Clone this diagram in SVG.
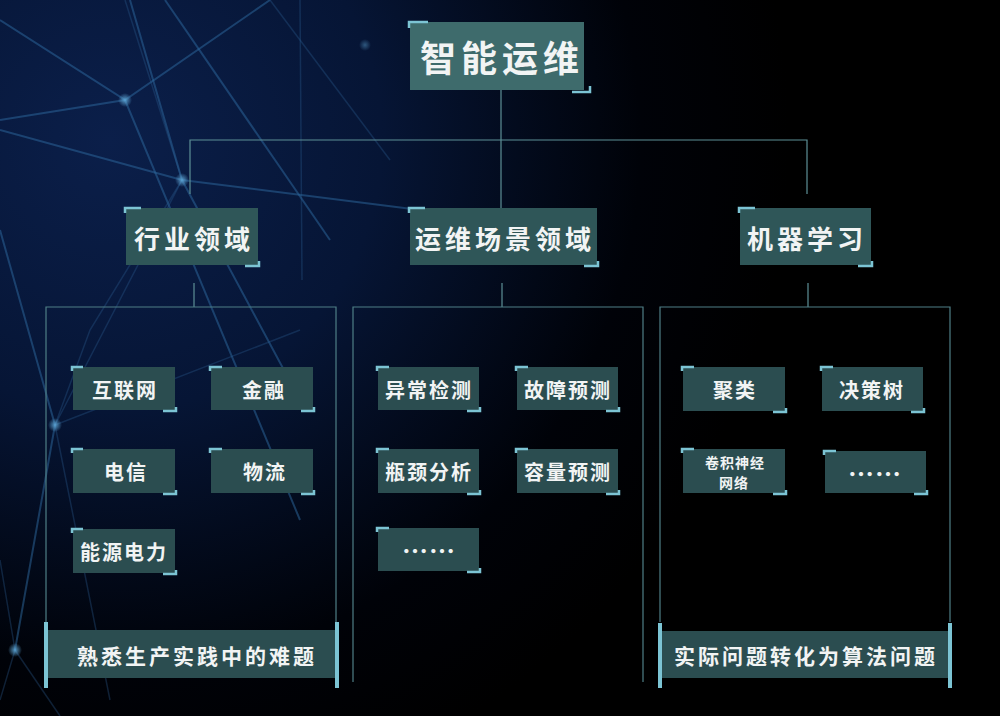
<svg xmlns="http://www.w3.org/2000/svg" width="1000" height="716" viewBox="0 0 1000 716">
<defs>
<radialGradient id="bg" cx="110" cy="140" r="680" gradientUnits="userSpaceOnUse">
<stop offset="0" stop-color="#0b1f4a"/>
<stop offset="0.4" stop-color="#061535"/>
<stop offset="0.78" stop-color="#000208"/>
<stop offset="1" stop-color="#000000"/>
</radialGradient>
<radialGradient id="dot">
<stop offset="0" stop-color="#5fa8d8" stop-opacity="0.9"/>
<stop offset="1" stop-color="#5fa8d8" stop-opacity="0"/>
</radialGradient>
<style>
.net{stroke:#2e6aa0;stroke-width:2;fill:none;opacity:0.5}
.net2{stroke:#2a5d8e;stroke-width:1.5;fill:none;opacity:0.35}
.conn{stroke:#5d8f96;stroke-width:1.2;fill:none}
.cont{stroke:#4f7f86;stroke-width:1.2;fill:none}
.big{fill:#3e6b6c}
.mid{fill:#2f5658}
.sm{fill:#2b4d50}
.acc{stroke:#7cc4d4;stroke-width:2.5;fill:none}
.bar{fill:#7cc4d4}
.t{font-family:"Noto Sans CJK SC","Noto Sans",sans-serif;font-weight:bold;fill:#f2f4f4;text-anchor:middle;dominant-baseline:central}
.t1{font-size:36px;letter-spacing:5px}
.t2{font-size:26px;letter-spacing:4px}
.t3{font-size:20px;letter-spacing:2px}
.t4{font-size:21px;letter-spacing:3px}
.t5{font-size:14px;letter-spacing:1px}
.dots{font-family:"Noto Sans CJK SC",sans-serif;font-weight:bold;font-size:26px;fill:#f2f4f4;text-anchor:middle;dominant-baseline:central;letter-spacing:1px}
</style>
</defs>
<rect width="1000" height="716" fill="url(#bg)"/>
<g id="network">
<path class="net" d="M0 20 L125 100 L300 520"/>
<path class="net" d="M130 0 L182 180 L300 400"/>
<path class="net" d="M165 0 L330 240"/>
<path class="net" d="M0 120 L125 100 L270 0"/>
<path class="net" d="M0 130 L182 180 L420 210"/>
<path class="net2" d="M270 0 L390 160"/>
<path class="net2" d="M300 0 L302 280"/>
<path class="net2" d="M182 180 L125 0"/>
<path class="net" d="M0 230 L55 425 L15 650"/>
<path class="net2" d="M182 180 L55 425 L110 700"/>
<path class="net2" d="M55 425 L300 330"/>
<path class="net2" d="M0 560 L15 650 L0 700"/>
<path class="net2" d="M15 650 L60 716"/>
<path class="net2" d="M182 180 L90 330 L55 425"/>
<circle cx="125" cy="100" r="7" fill="url(#dot)"/>
<circle cx="182" cy="180" r="7" fill="url(#dot)"/>
<circle cx="55" cy="425" r="7" fill="url(#dot)"/>
<circle cx="15" cy="650" r="7" fill="url(#dot)"/>
<circle cx="365" cy="45" r="6" fill="url(#dot)" opacity="0.5"/>
</g>
<g id="connectors">
<path class="conn" d="M501 90 V140 M190 194 V140 H807 V194 M501 140 V208"/>
<path class="conn" d="M194 283 V307 M502 283 V307 M808 283 V307"/>
<path class="cont" d="M46 622 V307 H336 V622"/>
<path class="cont" d="M660 622 V307 H950 V622"/>
<path class="cont" d="M353 682 V307 H643 V682"/>
</g>
<g id="n-root">
<rect class="big" x="410" y="22" width="174" height="68"/>
<path class="acc" d="M409 28 V22 H428 M572 92 H590 V86"/>
<text class="t t1" x="502" y="56">智能运维</text>
</g>
<g id="n-industry">
<rect class="mid" x="126" y="208" width="132" height="57"/>
<path class="acc" d="M125 213 V208 H141 M245 266 H259 V261"/>
<text class="t t2" x="194" y="237">行业领域</text>
</g>
<g id="n-scene">
<rect class="mid" x="410" y="208" width="187" height="57"/>
<path class="acc" d="M409 213 V208 H425 M584 266 H598 V261"/>
<text class="t t2" x="505" y="237">运维场景领域</text>
</g>
<g id="n-ml">
<rect class="mid" x="740" y="208" width="131" height="57"/>
<path class="acc" d="M739 213 V208 H755 M858 266 H872 V261"/>
<text class="t t2" x="807" y="237">机器学习</text>
</g>
<g id="n-internet">
<rect class="sm" x="73" y="367" width="102" height="43"/>
<path class="acc" d="M72 371 V367 H83 M163 411 H176 V407"/>
<text class="t t3" x="125" y="389">互联网</text>
</g>
<g id="n-finance">
<rect class="sm" x="211" y="367" width="102" height="43"/>
<path class="acc" d="M210 371 V367 H222 M301 411 H314 V407"/>
<text class="t t3" x="264" y="389">金融</text>
</g>
<g id="n-telecom">
<rect class="sm" x="73" y="449" width="102" height="44"/>
<path class="acc" d="M72 453 V449 H83 M163 494 H176 V490"/>
<text class="t t3" x="126" y="471">电信</text>
</g>
<g id="n-logistics">
<rect class="sm" x="211" y="449" width="102" height="44"/>
<path class="acc" d="M210 453 V449 H222 M301 494 H314 V490"/>
<text class="t t3" x="265" y="471">物流</text>
</g>
<g id="n-energy">
<rect class="sm" x="73" y="529" width="102" height="44"/>
<path class="acc" d="M72 533 V529 H83 M163 574 H176 V570"/>
<text class="t t3" x="124" y="551">能源电力</text>
</g>
<g id="n-bar-left">
<rect class="sm" x="48" y="630" width="288" height="48"/>
<rect class="bar" x="44" y="622" width="4" height="66"/>
<rect class="bar" x="335" y="622" width="4" height="66"/>
<text class="t t4" x="197" y="655">熟悉生产实践中的难题</text>
</g>
<g id="n-anomaly">
<rect class="sm" x="378" y="367" width="101" height="43"/>
<path class="acc" d="M377 371 V367 H389 M467 411 H480 V407"/>
<text class="t t3" x="429" y="389">异常检测</text>
</g>
<g id="n-fault">
<rect class="sm" x="517" y="367" width="101" height="43"/>
<path class="acc" d="M516 371 V367 H528 M606 411 H619 V407"/>
<text class="t t3" x="568" y="389">故障预测</text>
</g>
<g id="n-bottleneck">
<rect class="sm" x="378" y="449" width="101" height="44"/>
<path class="acc" d="M377 453 V449 H389 M467 494 H480 V490"/>
<text class="t t3" x="429" y="471">瓶颈分析</text>
</g>
<g id="n-capacity">
<rect class="sm" x="517" y="449" width="101" height="44"/>
<path class="acc" d="M516 453 V449 H528 M606 494 H619 V490"/>
<text class="t t3" x="568" y="471">容量预测</text>
</g>
<g id="n-more-mid">
<rect class="sm" x="378" y="528" width="101" height="43"/>
<path class="acc" d="M377 532 V528 H389 M467 572 H480 V568"/>
<text class="dots" x="429" y="549">……</text>
</g>
<g id="n-cluster">
<rect class="sm" x="683" y="367" width="102" height="44"/>
<path class="acc" d="M682 371 V367 H694 M773 412 H786 V408"/>
<text class="t t3" x="735" y="389">聚类</text>
</g>
<g id="n-tree">
<rect class="sm" x="822" y="367" width="101" height="44"/>
<path class="acc" d="M821 371 V367 H833 M911 412 H924 V408"/>
<text class="t t3" x="872" y="389">决策树</text>
</g>
<g id="n-cnn">
<rect class="sm" x="683" y="449" width="102" height="44"/>
<path class="acc" d="M682 453 V449 H694 M773 494 H786 V490"/>
<text class="t t5" x="735" y="462">卷积神经</text>
<text class="t t5" x="734" y="482">网络</text>
</g>
<g id="n-more-ml">
<rect class="sm" x="825" y="451" width="101" height="42"/>
<path class="acc" d="M824 455 V451 H836 M914 494 H927 V490"/>
<text class="dots" x="875" y="472">……</text>
</g>
<g id="n-bar-right">
<rect class="sm" x="662" y="631" width="287" height="47"/>
<rect class="bar" x="658" y="623" width="4" height="65"/>
<rect class="bar" x="948" y="623" width="4" height="65"/>
<text class="t t4" x="806" y="655">实际问题转化为算法问题</text>
</g>
</svg>
